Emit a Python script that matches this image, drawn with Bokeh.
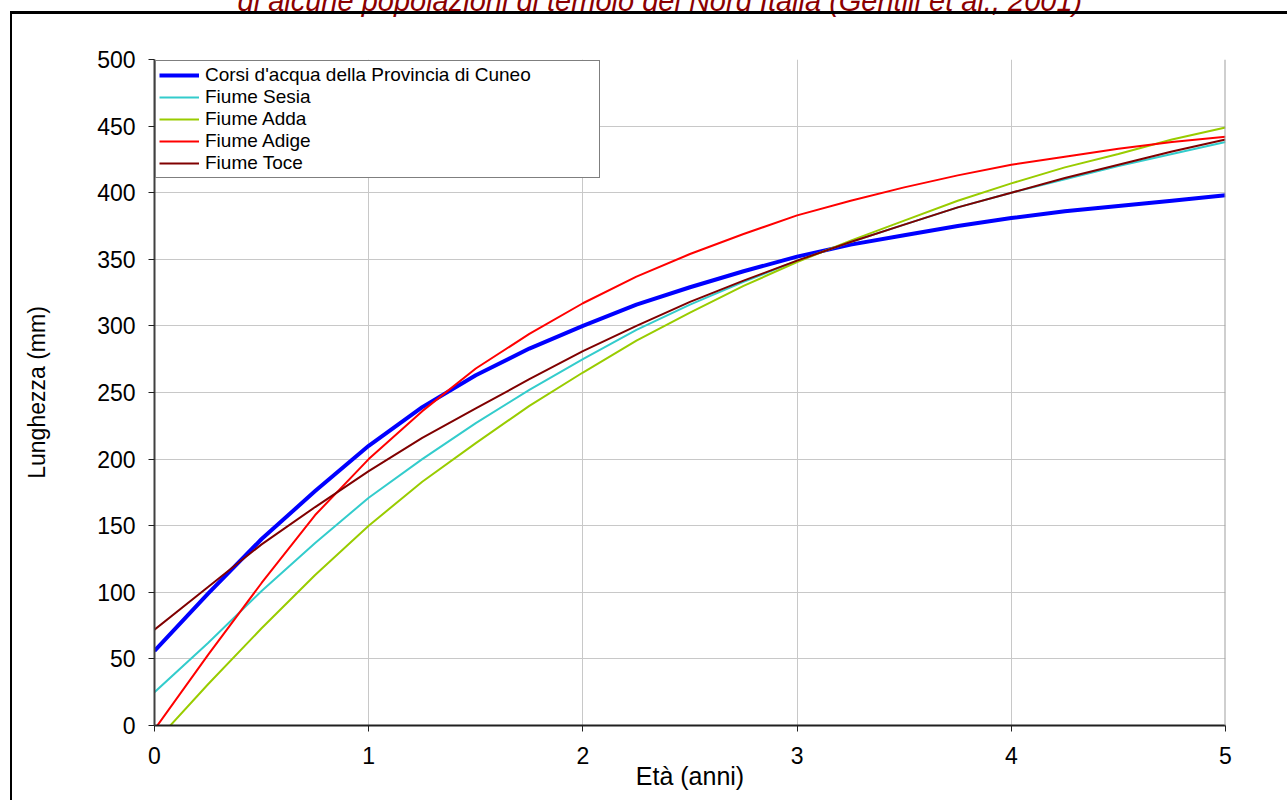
from bokeh.plotting import figure
from bokeh.models import (Range1d, FixedTicker, Legend, LegendItem, Title,
                          Span, InlineStyleSheet)
from bokeh.embed import file_html
from bokeh.resources import INLINE

# ---- data ----
eta = [0, 0.25, 0.5, 0.75, 1, 1.25, 1.5, 1.75, 2, 2.25, 2.5, 2.75, 3, 3.25,
       3.5, 3.75, 4, 4.25, 4.5, 4.75, 5]
cuneo = [56, 99, 140, 176, 210, 239, 263, 283, 300, 316, 329, 341, 352, 361,
         368, 375, 381, 386, 390, 394, 398]
sesia = [25, 62, 101, 137, 171, 200, 227, 252, 275, 297, 316, 333, 349, 363,
         376, 389, 400, 410, 420, 429, 438]
adda = [-13, 31, 73, 113, 150, 183, 212, 240, 265, 289, 310, 330, 348, 364,
        379, 394, 407, 419, 429, 440, 449]
adige = [-3, 53, 107, 158, 200, 236, 268, 294, 317, 337, 354, 369, 383, 394,
         404, 413, 421, 427, 433, 438, 442]
toce = [72, 104, 136, 164, 191, 216, 238, 260, 281, 300, 318, 334, 349, 363,
        376, 389, 400, 411, 421, 431, 440]

series_names = ["Corsi d'acqua della Provincia di Cuneo", "Fiume Sesia",
                "Fiume Adda", "Fiume Adige", "Fiume Toce"]
x_ticks = [0, 1, 2, 3, 4, 5]
y_ticks = [0, 50, 100, 150, 200, 250, 300, 350, 400, 450, 500]
title_text = "di alcune popolazioni di temolo del Nord Italia (Gentili et al., 2001)"
x_label = "Età (anni)"
y_label = "Lunghezza (mm)"

FONT = "Liberation Sans"
SHIFT = 70  # canvas starts this many px above the page top (title is cut off)

border_css = InlineStyleSheet(css=f"""
:host {{ overflow: hidden; }}
:host::before {{
  content: '';
  position: absolute;
  left: 10px; top: {11 + SHIFT}px;
  width: 2000px; height: 2000px;
  border-left: 2px solid black;
  border-top: 3px solid black;
  border-right: none !important; border-bottom: none !important;
  pointer-events: none;
  z-index: 5;
}}
""")

p = figure(width=1287, height=800 + SHIFT, output_backend="svg", toolbar_location=None,
           x_range=Range1d(0, 5), y_range=Range1d(0, 500),
           min_border_left=154, min_border_right=62,
           min_border_top=59 + SHIFT, min_border_bottom=75,
           background_fill_color="white", border_fill_color="white")
p.styles = {"margin-top": f"-{SHIFT}px"}
p.stylesheets = [border_css]
p.outline_line_color = None

p.title = Title(text=title_text, align="left", offset=83, standoff=86,
                text_font=FONT, text_font_style="italic", text_font_size="29px",
                text_color="#8B0000")

# grid
p.xgrid.ticker = FixedTicker(ticks=x_ticks)
p.ygrid.ticker = FixedTicker(ticks=y_ticks)
p.grid.grid_line_color = "#C8C8C8"
p.grid.grid_line_width = 1

# axes
p.xaxis.ticker = FixedTicker(ticks=x_ticks)
p.yaxis.ticker = FixedTicker(ticks=y_ticks)
for ax in (p.xaxis[0], p.yaxis[0]):
    ax.major_tick_in = 0
    ax.major_tick_out = 6
    ax.minor_tick_in = 0
    ax.minor_tick_out = 0
    ax.major_label_text_font = FONT
    ax.major_label_text_font_size = "23px"
    ax.major_label_text_color = "black"
    ax.axis_label_text_font = FONT
    ax.axis_label_text_font_style = "normal"
    ax.axis_label_text_color = "black"
    ax.axis_line_width = 2
    ax.major_tick_line_width = 1
p.yaxis.axis_line_color = "#404040"
p.yaxis.major_tick_line_color = "#202020"
p.xaxis.axis_line_color = "#202020"
p.xaxis.major_tick_line_color = "#202020"
p.yaxis.major_label_standoff = 13
p.xaxis.major_label_standoff = 15
p.xaxis.axis_label = x_label
p.yaxis.axis_label = y_label
p.xaxis.axis_label_text_font_size = "25px"
p.yaxis.axis_label_text_font_size = "23px"
p.xaxis.axis_label_standoff = -5
p.yaxis.axis_label_standoff = 44

# right border of plot area
p.add_layout(Span(location=5, dimension="height", line_color="#A0A0A0", line_width=2))

colors = ["#0000FF", "#33CCCC", "#99CC00", "#FF0000", "#800000"]
widths = [4, 2, 2, 2, 2]
data = [cuneo, sesia, adda, adige, toce]
items = []
for name, ys, c, w in zip(series_names, data, colors, widths):
    r = p.line(eta, ys, line_color=c, line_width=w)
    items.append(LegendItem(label=name, renderers=[r]))

legend = Legend(items=items, location="top_left", margin=1, padding=3,
                spacing=0, glyph_width=40, glyph_height=18, label_height=18,
                label_standoff=6, label_width=391,
                label_text_font=FONT, label_text_font_size="19px",
                label_text_color="black",
                border_line_color="black", border_line_width=1,
                background_fill_color="white", background_fill_alpha=1)
p.add_layout(legend)

open("out.html", "w").write(file_html(p, INLINE))
